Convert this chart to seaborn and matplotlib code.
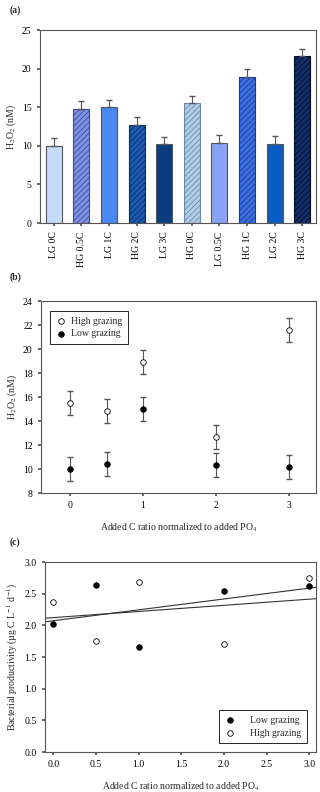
import matplotlib
matplotlib.use("Agg")
import matplotlib.pyplot as plt
import seaborn as sns
import numpy as np
import pandas as pd

sns.set_theme(style="ticks")
plt.rcParams.update({
    "font.family": ["Liberation Serif", "DejaVu Serif"],
    "mathtext.fontset": "stix",
    "font.size": 7,
    "axes.edgecolor": "#555555",
    "axes.linewidth": 0.8,
    "xtick.color": "#555555",
    "ytick.color": "#555555",
    "xtick.labelcolor": "black",
    "ytick.labelcolor": "black",
    "xtick.major.size": 2.5,
    "ytick.major.size": 2.5,
    "hatch.linewidth": 0.6,
})

#---------- dados ----------
bar_labels = ["LG 0C", "HG 0.5C", "LG 1C", "HG 2C", "LG 3C",
              "HG 0C", "LG 0.5C", "HG 1C", "LG 2C", "HG 3C"]
bar_values = [10.0, 14.8, 15.0, 12.7, 10.2, 15.5, 10.4, 18.9, 10.3, 21.6]
bar_err = [1.0, 1.0, 1.0, 1.0, 1.0, 1.0, 1.0, 1.0, 1.0, 1.0]
bar_colors = ["#c4dcf8", "#7f92e2", "#4a88f6", "#1c5cb6", "#0b3c80",
              "#b4cde6", "#8aa2f6", "#3c6fe0", "#0a5cc6", "#13306a"]
hatch_colors = [None, "#3a4aa0", None, "#0a2a60", None,
                "#6a88aa", None, "#1a3a90", None, "#000a20"]

c_ratio = [0, 0.5, 1, 2, 3]
h2o2_high = [15.5, 14.8, 18.9, 12.7, 21.6]
h2o2_low = [10.0, 10.4, 15.0, 10.3, 10.2]
h2o2_high_err = [1.0, 1.0, 1.0, 1.0, 1.0]
h2o2_low_err = [1.0, 1.0, 1.0, 1.0, 1.0]

bp_low = [2.02, 2.64, 1.66, 2.54, 2.62]
bp_high = [2.37, 1.75, 2.68, 1.70, 2.74]

fig = plt.figure(figsize=(3.2, 7.92), dpi=100)

#---------- (a) barras ----------
ax_a = fig.add_axes([0.125, 0.7184, 0.8625, 0.2437])
df_a = pd.DataFrame({"grupo": bar_labels, "h2o2": bar_values})
sns.barplot(data=df_a, x="grupo", y="h2o2", hue="grupo", palette=bar_colors,
            saturation=1, width=0.58, legend=False, errorbar=None, ax=ax_a,
            edgecolor="#555555", linewidth=0.8)
for patch, hc in zip(ax_a.patches, hatch_colors):
    if hc is not None:
        patch.set_hatch("//////")
        patch.set_edgecolor(hc)
ax_a.errorbar(range(len(bar_values)), bar_values,
              yerr=[np.zeros(len(bar_err)), bar_err],
              fmt="none", ecolor="#555555", elinewidth=0.8, capsize=2.5)
ax_a.set_xlim(-0.5, 9.5)
ax_a.set_ylim(0, 25)
ax_a.set_yticks([0, 5, 10, 15, 20, 25])
ax_a.set_xlabel("")
ax_a.set_ylabel("H$_2$O$_2$ (nM)", fontsize=7, labelpad=3)
ax_a.tick_params(axis="x", rotation=90, labelsize=7)
ax_a.tick_params(axis="y", labelsize=7)
fig.text(0.03, 0.987, "(a)", fontsize=7, fontweight="bold", va="center")

#---------- (b) H2O2 vs C ----------
ax_b = fig.add_axes([0.128, 0.3775, 0.8594, 0.2424])
ax_b.errorbar(c_ratio, h2o2_high, yerr=h2o2_high_err, fmt="none",
              ecolor="#555555", elinewidth=0.8, capsize=2.5)
ax_b.errorbar(c_ratio, h2o2_low, yerr=h2o2_low_err, fmt="none",
              ecolor="#555555", elinewidth=0.8, capsize=2.5)
sns.scatterplot(x=c_ratio, y=h2o2_high, marker="o", s=16, facecolor="white",
                edgecolor="black", linewidth=0.6, label="High grazing",
                zorder=3, ax=ax_b)
sns.scatterplot(x=c_ratio, y=h2o2_low, marker="o", s=16, color="black",
                edgecolor="black", linewidth=0.6, label="Low grazing",
                zorder=3, ax=ax_b)
ax_b.set_xlim(-0.4, 3.37)
ax_b.set_ylim(8, 24)
ax_b.set_xticks([0, 1, 2, 3])
ax_b.set_yticks(range(8, 25, 2))
ax_b.set_xlabel("Added C ratio normalized to added PO$_4$", fontsize=7, labelpad=8)
ax_b.set_ylabel("H$_2$O$_2$ (nM)", fontsize=7, labelpad=3)
ax_b.tick_params(labelsize=7)
leg_b = ax_b.legend(loc="upper left", fontsize=7, fancybox=False,
                    edgecolor="black", framealpha=1, handlelength=1.0,
                    handletextpad=0.6, borderpad=0.6, labelspacing=0.4,
                    bbox_to_anchor=(0.015, 0.975))
leg_b.get_frame().set_linewidth(0.6)
fig.text(0.03, 0.65, "(b)", fontsize=7, fontweight="bold", va="center")

#---------- (c) produtividade bacteriana ----------
ax_c = fig.add_axes([0.14, 0.0505, 0.8475, 0.2399])
ax_c.set_xlim(-0.1, 3.08)
ax_c.set_ylim(0, 3.0)
sns.regplot(x=c_ratio, y=bp_low, ci=None, truncate=False, scatter=False,
            line_kws={"color": "#333333", "linewidth": 0.8}, ax=ax_c)
sns.regplot(x=c_ratio, y=bp_high, ci=None, truncate=False, scatter=False,
            line_kws={"color": "#333333", "linewidth": 0.8}, ax=ax_c)
sns.scatterplot(x=c_ratio, y=bp_low, marker="o", s=16, color="black",
                edgecolor="black", linewidth=0.6, label="Low grazing",
                zorder=3, ax=ax_c)
sns.scatterplot(x=c_ratio, y=bp_high, marker="o", s=16, facecolor="white",
                edgecolor="black", linewidth=0.6, label="High grazing",
                zorder=3, ax=ax_c)
ax_c.set_xlim(-0.1, 3.08)
ax_c.set_ylim(0, 3.0)
ax_c.set_xticks(np.arange(0, 3.01, 0.5))
ax_c.set_yticks(np.arange(0, 3.01, 0.5))
ax_c.xaxis.set_major_formatter(matplotlib.ticker.FormatStrFormatter("%.1f"))
ax_c.yaxis.set_major_formatter(matplotlib.ticker.FormatStrFormatter("%.1f"))
ax_c.set_xlabel("Added C ratio normalized to added PO$_4$", fontsize=7, labelpad=8)
ax_c.set_ylabel("Bacterial productivity (\u00b5g C L$^{-1}$ d$^{-1}$)",
                fontsize=7, labelpad=3)
ax_c.tick_params(labelsize=7)
leg_c = ax_c.legend(loc="lower right", fontsize=7, fancybox=False,
                    edgecolor="black", framealpha=1, handlelength=1.0,
                    handletextpad=1.6, borderpad=0.6, labelspacing=0.4,
                    bbox_to_anchor=(0.985, 0.02))
leg_c.get_frame().set_linewidth(0.6)
fig.text(0.03, 0.315, "(c)", fontsize=7, fontweight="bold", va="center")

plt.savefig("out.png", dpi=100)
